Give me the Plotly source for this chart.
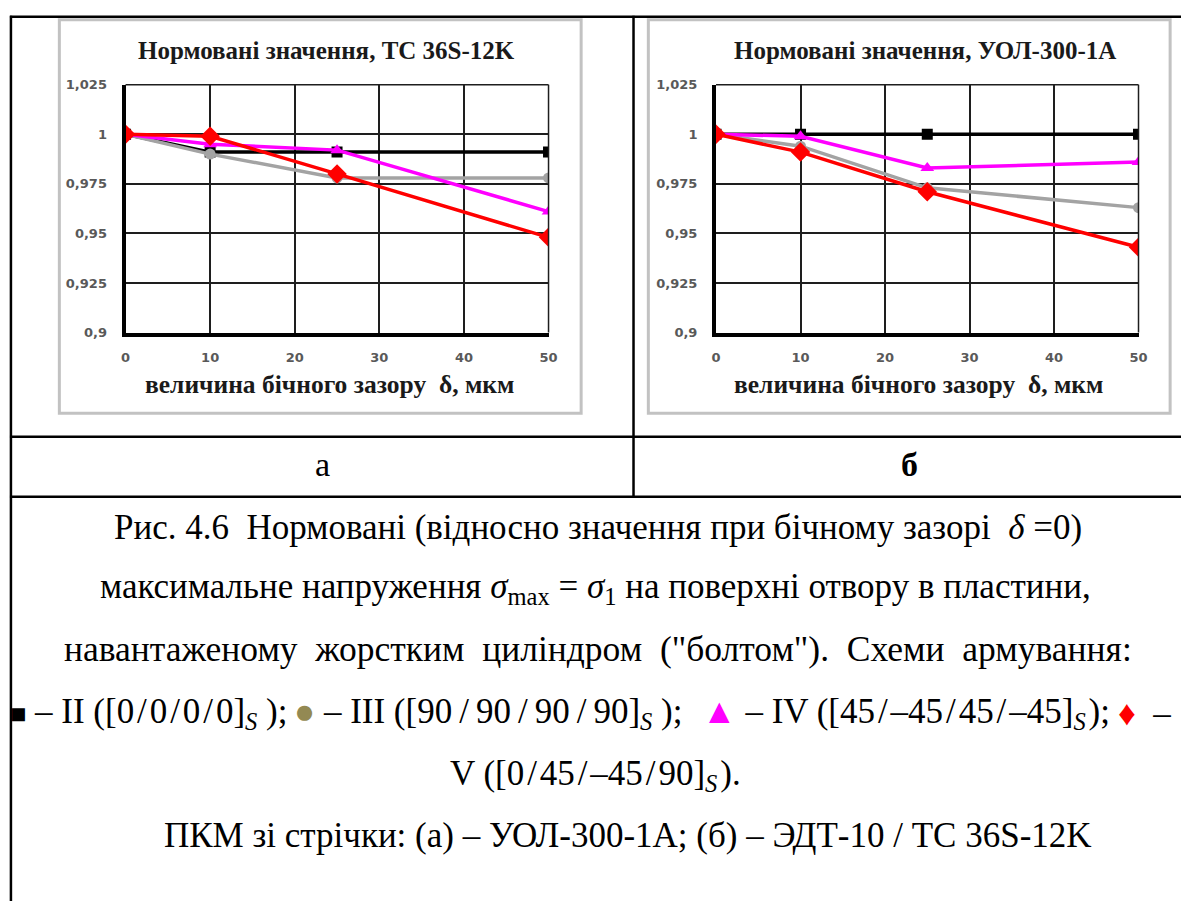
import plotly.graph_objects as go

W, H = 1190, 909

# ---------------- data ----------------
x_vals = [0, 10, 25, 50]

a_black = [1.0, 0.991, 0.991, 0.991]
a_gray = [1.0, 0.990, 0.978, 0.978]
a_magenta = [1.0, 0.995, 0.992, 0.961]
a_red = [1.0, 0.999, 0.980, 0.948]

b_black = [1.0, 1.0, 1.0, 1.0]
b_gray = [1.0, 0.994, 0.973, 0.963]
b_magenta = [1.0, 0.999, 0.983, 0.986]
b_red = [1.0, 0.991, 0.971, 0.943]

series_names = ["II", "III", "IV", "V"]
series_colors = ["#000000", "#A3A3A3", "#FF00FF", "#FF0000"]
series_symbols = ["square", "circle", "triangle-up", "diamond"]
series_sizes = [11, 11, 12, 15]

x_tickvals = [0, 10, 20, 30, 40, 50]
x_ticktext = ["0", "10", "20", "30", "40", "50"]
y_tickvals = [0.9, 0.925, 0.95, 0.975, 1.0, 1.025]
y_ticktext = ["0,9", "0,925", "0,95", "0,975", "1", "1,025"]

title_a = "Нормовані значення, ТС 36S-12K"
title_b = "Нормовані значення, УОЛ-300-1А"
x_title = "величина бічного зазору  δ, мкм"

label_a = "а"
label_b = "б"

T = "\u200a"  # hair space around the slashes of the lay-up formulas
N = "\u2009"  # thin space
E = "\u2002"  # en space (wider word spacing of the justified line)
caption_lines = [
    "Рис. 4.6  Нормовані (відносно значення при бічному зазорі  <i>δ</i> =0)",
    "максимальне напруження <i>σ</i><sub>max</sub> = <i>σ</i><sub>1</sub> на поверхні отвору в пластини,",
    E.join(["навантаженому", "жорстким", "циліндром", "(\"болтом\").", "Схеми", "армування:"]),
    None,
    f"V ([0{T}/{T}45{T}/{T}–45{T}/{T}90]<sub><i>S</i></sub>{T}).",
    "ПКМ зі стрічки: (а) – УОЛ-300-1А; (б) – ЭДТ-10 / ТС 36S-12K",
]
legend_line_parts = [
    f"<span style='font-size:27px'>■</span> – II ([0{T}/{T}0{T}/{T}0{T}/{T}0]<sub><i>S</i></sub> );",
    f"<span style='color:#938953'>●</span> – III ([90{N}/{N}90{N}/{N}90{N}/{N}90]<sub><i>S</i></sub> );",
    f"<span style='color:#FF00FF'>▲</span> – IV ([45{T}/{T}–45{T}/{T}45{T}/{T}–45]<sub><i>S</i></sub>{T});",
    "<span style='color:#FF0000'>♦</span>  –",
]

SERIF = "Liberation Serif, Times New Roman, DejaVu Serif, serif"


def px(x):
    return x / W


def py(y):
    return 1 - y / H


fig = go.Figure()

panels = [
    ("x", "y", [a_black, a_gray, a_magenta, a_red]),
    ("x2", "y2", [b_black, b_gray, b_magenta, b_red]),
]
for xa, ya, series in panels:
    for vals, name, col, sym, size in zip(series, series_names, series_colors,
                                          series_symbols, series_sizes):
        fig.add_trace(go.Scatter(
            x=x_vals, y=vals, name=name, xaxis=xa, yaxis=ya,
            mode="lines+markers",
            line=dict(color=col, width=3.5),
            marker=dict(symbol=sym, size=size, color=col),
            showlegend=False, hoverinfo="skip",
        ))

tick_font = dict(family="DejaVu Sans", size=13, color="#595959", weight="bold")

common_x = dict(range=[0, 50], tickvals=x_tickvals, ticktext=x_ticktext,
                showgrid=True, gridcolor="#1e1e1e", gridwidth=1.5,
                showline=True, linecolor="black", linewidth=4,
                ticks="", tickfont=tick_font, ticklabelstandoff=10,
                zeroline=False, fixedrange=True)
common_y = dict(range=[0.9, 1.025], tickvals=y_tickvals, ticktext=y_ticktext,
                showgrid=True, gridcolor="#1e1e1e", gridwidth=1.5,
                showline=True, linecolor="black", linewidth=4,
                ticks="", tickfont=tick_font, ticklabelstandoff=12,
                zeroline=False, fixedrange=True)

ydom = [py(331), py(79)]
fig.update_layout(
    width=W, height=H,
    margin=dict(l=0, r=0, t=0, b=0),
    paper_bgcolor="white", plot_bgcolor="rgba(0,0,0,0)",
    showlegend=False,
    xaxis=dict(domain=[px(122), px(550)], anchor="y", **common_x),
    yaxis=dict(domain=ydom, anchor="x", **common_y),
    xaxis2=dict(domain=[px(719.5), px(1147)], anchor="y2", **common_x),
    yaxis2=dict(domain=ydom, anchor="x2", **common_y),
)

shapes = []
# chart boxes (Excel chart area)
for x0, x1 in [(55, 583), (651, 1179)]:
    shapes.append(dict(type="rect", xref="paper", yref="paper",
                       x0=px(x0), x1=px(x1), y0=py(413), y1=py(13),
                       line=dict(color="#C2C2C2", width=3),
                       fillcolor="white", layer="below"))
# top/right frame of plot areas
for xr, yr in [("x domain", "y domain"), ("x2 domain", "y2 domain")]:
    shapes.append(dict(type="line", xref=xr, yref=yr, x0=0, x1=1, y0=1, y1=1,
                       line=dict(color="#1e1e1e", width=1.5)))
    shapes.append(dict(type="line", xref=xr, yref=yr, x0=1, x1=1, y0=0, y1=1,
                       line=dict(color="#1e1e1e", width=1.5)))
# table lines
tbl = dict(color="black", width=2.5)
shapes += [
    dict(type="line", xref="paper", yref="paper", x0=px(5), x1=px(1190), y0=py(10), y1=py(10), line=tbl),
    dict(type="line", xref="paper", yref="paper", x0=px(6), x1=px(6), y0=py(9), y1=py(909), line=tbl),
    dict(type="line", xref="paper", yref="paper", x0=px(636), x1=px(636), y0=py(9), y1=py(498), line=tbl),
    dict(type="line", xref="paper", yref="paper", x0=px(5), x1=px(1190), y0=py(437), y1=py(437), line=tbl),
    dict(type="line", xref="paper", yref="paper", x0=px(5), x1=px(1190), y0=py(498), y1=py(498), line=tbl),
]
fig.update_layout(shapes=shapes)

ann = []


def add_text(text, x, y, size, family=SERIF, bold=False,
             color="black", xanchor="center"):
    ann.append(dict(text=text, x=px(x), y=py(y), xref="paper", yref="paper",
                    xanchor=xanchor, yanchor="middle", showarrow=False,
                    font=dict(family=family, size=size, color=color,
                              weight="bold" if bold else "normal")))


# chart titles and axis titles
add_text(title_a, 325, 44, 25, bold=True, color="#1a1a1a")
add_text(title_b, 931, 44, 25, bold=True, color="#1a1a1a")
add_text(x_title, 328, 384, 25.5, bold=True, color="#1a1a1a")
add_text(x_title, 924, 384, 25.5, bold=True, color="#1a1a1a")

# panel labels
add_text(label_a, 321, 465, 34)
add_text(label_b, 915, 465, 34, bold=True)

# caption
cap_y = [529, 591, 653, 718, 781, 842]
cap_x = [600, 598, 600, None, 598, 630]
cap_size = [35, 35, 35.5, None, 35, 35]
for line, yy, xx, ss in zip(caption_lines, cap_y, cap_x, cap_size):
    if line is not None:
        add_text(line, xx, yy, ss)
part_x = [3, 290, 703, 1124]
for part, xx in zip(legend_line_parts, part_x):
    add_text(part, xx, cap_y[3], 35, xanchor="left")

fig.update_layout(annotations=ann)
fig.write_html("out.html", config={"displayModeBar": False},
               post_script="document.body.style.margin='0';document.body.style.padding='0';")
